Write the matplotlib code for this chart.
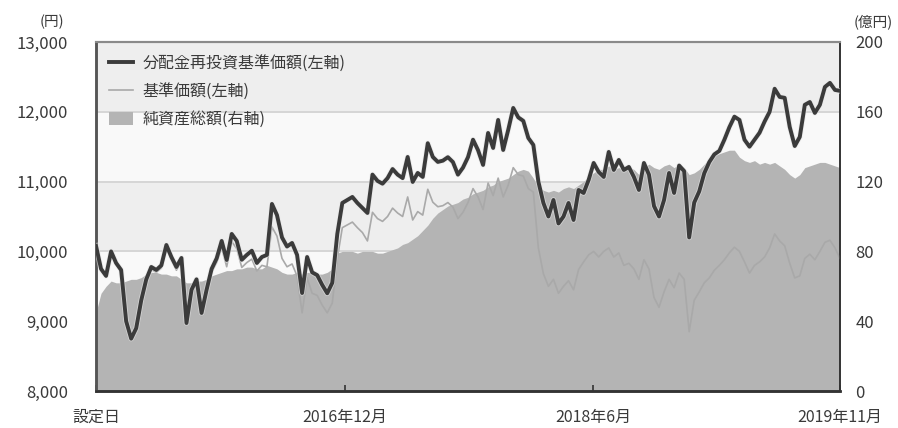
import matplotlib
matplotlib.use("Agg")
import matplotlib.pyplot as plt
import matplotlib.patheffects as pe
import pandas as pd
from matplotlib.lines import Line2D
from matplotlib.patches import Patch

plt.rcParams['font.family'] = ['Noto Sans CJK JP', 'DejaVu Sans']

# ---- data ----
start_date = '2015-06-30'
end_date = '2019-11-29'

nav_reinvested = [  # 分配金再投資基準価額 (円)
    10080, 9750, 9650, 10000, 9834, 9734, 9000, 8750, 8900, 9300,
    9600, 9777, 9734, 9800, 10092, 9920, 9777, 9906, 8974, 9450,
    9600, 9118, 9450, 9750, 9900, 10150, 9877, 10250, 10150, 9880,
    9950, 10010, 9834, 9920, 9950, 10680, 10520, 10200, 10070, 10121,
    9950, 9404, 9920, 9700, 9660, 9520, 9400, 9550, 10250, 10694,
    10737, 10780, 10694, 10622, 10551, 11100, 11010, 10970, 11050, 11180,
    11100, 11050, 11353, 10995, 11124, 11067, 11550, 11353, 11282, 11300,
    11350, 11280, 11100, 11200, 11350, 11600, 11450, 11239, 11697, 11482,
    11883, 11453, 11740, 12055, 11920, 11870, 11625, 11525, 11000, 10694,
    10500, 10737, 10400, 10500, 10694, 10450, 10880, 10837, 11024, 11267,
    11138, 11067, 11425, 11167, 11310, 11167, 11210, 11067, 10880, 11267,
    11100, 10650, 10500, 10737, 11124, 10837, 11230, 11150, 10200, 10700,
    10860, 11120, 11280, 11390, 11440, 11600, 11780, 11930, 11883, 11600,
    11500, 11600, 11700, 11860, 12000, 12330, 12213, 12200, 11783, 11510,
    11640, 12100, 12140, 11984, 12100, 12356, 12414, 12313, 12300,
]

nav = [  # 基準価額 (円)
    10060, 9730, 9630, 9980, 9810, 9700, 9020, 8800, 8870, 9260,
    9560, 9740, 9700, 9760, 10040, 9880, 9730, 9860, 8940, 9400,
    9550, 9080, 9400, 9700, 9840, 10050, 9780, 10140, 10040, 9770,
    9840, 9890, 9720, 9800, 9780, 10350, 10220, 9900, 9780, 9820,
    9650, 9120, 9620, 9400, 9370, 9230, 9120, 9260, 9900, 10340,
    10380, 10420, 10340, 10270, 10150, 10560, 10470, 10430, 10500, 10620,
    10550, 10500, 10780, 10450, 10570, 10520, 10890, 10705, 10640, 10655,
    10700, 10635, 10470, 10560, 10700, 10900, 10780, 10600, 10980, 10800,
    11050, 10780, 10950, 11200, 11100, 11080, 10900, 10850, 10050, 9680,
    9500, 9600, 9400, 9500, 9580, 9450, 9740, 9850, 9950, 10000,
    9920, 10000, 10050, 9920, 9978, 9800, 9830, 9750, 9600, 9880,
    9750, 9340, 9200, 9420, 9600, 9480, 9690, 9600, 8850, 9300,
    9420, 9550, 9620, 9730, 9800, 9880, 9980, 10060, 10000, 9850,
    9690, 9800, 9850, 9920, 10050, 10250, 10150, 10080, 9830, 9620,
    9650, 9900, 9960, 9880, 10000, 10130, 10160, 10050, 9900,
]

net_assets = [  # 純資産総額 (億円)
    45, 56, 60, 63, 62, 62, 63, 64, 64, 65,
    67, 68, 68, 67, 67, 66, 66, 64, 62, 62,
    63, 63, 64, 66, 67, 68, 69, 69, 70, 70,
    71, 71, 70, 70, 72, 71, 70, 68, 67, 67,
    68, 67, 68, 68, 67, 67, 68, 70, 79, 80,
    80, 80, 79, 80, 80, 80, 79, 79, 80, 81,
    82, 84, 85, 87, 89, 92, 95, 99, 102, 104,
    106, 107, 108, 110, 111, 113, 114, 115, 117, 118,
    120, 121, 122, 124, 126, 127, 126, 122, 117, 115,
    114, 115, 114, 116, 117, 116, 118, 120, 123, 125,
    127, 127, 129, 127, 128, 127, 128, 127, 124, 128,
    130, 128, 127, 129, 130, 128, 130, 128, 124, 125,
    127, 130, 133, 135, 136, 137, 138, 138, 134, 132,
    131, 132, 130, 131, 130, 131, 129, 127, 124, 122,
    124, 128, 129, 130, 131, 131, 130, 129, 128,
]

tick_dates = ['2015-06-30', '2016-12-20', '2018-06-12', '2019-11-29']
tick_labels = ['設定日', '2016年12月', '2018年6月', '2019年11月']
left_ticks = [8000, 9000, 10000, 11000, 12000, 13000]
right_ticks = [0, 40, 80, 120, 160, 200]

labels = ['分配金再投資基準価額(左軸)', '基準価額(左軸)', '純資産総額(右軸)']

# ---- figure ----
dates = pd.date_range(start_date, end_date, periods=len(nav_reinvested))

fig = plt.figure(figsize=(8.98, 4.28), dpi=100)
ax2 = fig.add_axes([0.1069, 0.0864, 0.8285, 0.8155])
ax = ax2.twinx()
ax.yaxis.tick_left()
ax.yaxis.set_label_position('left')
ax2.yaxis.tick_right()
ax.set_zorder(ax2.get_zorder() + 1)
ax.patch.set_visible(False)

txt = '#3a3a3a'
band_gray = '#eeeeee'
band_white = '#f9f9f9'
dark = '#3b3b3b'
light = '#a9a9a9'
area_c = '#b4b4b4'

ax2.set_ylim(0, 200)
ax.set_ylim(8000, 13000)
ax2.set_xlim(dates[0], dates[-1])

# alternating background bands and grid (in right-axis units)
for i, (lo, hi) in enumerate(zip(right_ticks[:-1], right_ticks[1:])):
    ax2.axhspan(lo, hi, color=band_gray if i % 2 == 0 else band_white, lw=0, zorder=0)
for v in right_ticks[1:-1]:
    ax2.axhline(v, color='#d6d6d6', lw=1.4, zorder=0.5)

ax2.fill_between(dates, 0, net_assets, color=area_c, lw=0, zorder=1)

ax.plot(dates, nav, color=light, lw=1.2, zorder=2)
ax.plot(dates, nav_reinvested, color=dark, lw=2.8, zorder=3,
        path_effects=[pe.withStroke(linewidth=4.0, foreground='#e6e6e6', alpha=0.6)])

# axes styling
ax.set_yticks(left_ticks)
ax.set_yticklabels([f'{v:,}' for v in left_ticks])
ax2.set_yticks(right_ticks)
ax2.set_yticklabels([str(v) for v in right_ticks])
ax.tick_params(axis='y', length=0, pad=20, labelsize=12, colors=txt)
ax2.tick_params(axis='y', length=0, pad=11, labelsize=12, colors=txt)

td = pd.to_datetime(tick_dates)
ax2.set_xticks(td)
ax2.set_xticklabels(tick_labels)
ax2.tick_params(axis='x', direction='in', length=4, width=1.2, color='#333333',
                pad=13, labelsize=11.5, colors=txt)

for a in (ax, ax2):
    a.spines['top'].set_color('#8a8a8a')
    a.spines['top'].set_linewidth(1.5)
    a.spines['left'].set_color('#555555')
    a.spines['left'].set_linewidth(1.8)
    a.spines['bottom'].set_color('#333333')
    a.spines['bottom'].set_linewidth(1.8)
    a.spines['right'].set_color('#333333')
    a.spines['right'].set_linewidth(1.2)

fig.text(0.058, 0.949, '(円)', ha='center', va='center', fontsize=10.5, color=txt)
fig.text(0.972, 0.949, '(億円)', ha='center', va='center', fontsize=10.5, color=txt)

handles = [
    Line2D([], [], color=dark, lw=2.8),
    Line2D([], [], color=light, lw=1.2),
    Patch(facecolor=area_c, edgecolor='none'),
]
leg = ax.legend(handles, labels, loc='upper left', bbox_to_anchor=(0.0, 1.0),
                frameon=False, fontsize=11.5, handlelength=1.5, handleheight=0.9,
                handletextpad=0.6, labelspacing=0.7, borderaxespad=0.4)
for t in leg.get_texts():
    t.set_color(txt)

fig.savefig('out.png', dpi=100)
